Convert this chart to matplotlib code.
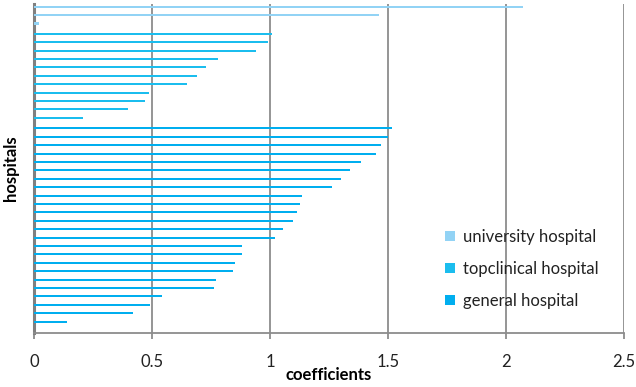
import numpy as np
import matplotlib.pyplot as plt
from matplotlib.patches import Patch

# coefficients per hospital, grouped by hospital type (top to bottom)
university = [2.07, 1.46, 0.02]
topclinical = [1.007, 0.993, 0.94, 0.781, 0.729, 0.689, 0.648, 0.489, 0.470, 0.398, 0.209]
general = [1.518, 1.501, 1.469, 1.448, 1.386, 1.338, 1.300, 1.263, 1.136, 1.126,
           1.113, 1.096, 1.054, 1.021, 0.881, 0.881, 0.850, 0.842, 0.770, 0.761,
           0.541, 0.490, 0.419, 0.138]

groups = ["university hospital", "topclinical hospital", "general hospital"]
colors = ["#92D3F5", "#1BBDEE", "#00AEEF"]
offsets = [-0.23, 0.0, 0.25]  # clustered series offset within a category slot

plt.rcParams['font.family'] = ['Lato', 'DejaVu Sans']

fig = plt.figure(figsize=(6.36, 3.87), dpi=100)
ax = fig.add_axes([34 / 636, 54 / 387, 590 / 636, 329 / 387])

start = 0
for vals, col, off in zip([university, topclinical, general], colors, offsets):
    pos = np.arange(start, start + len(vals)) + off
    ax.barh(pos, vals, height=0.24, color=col, zorder=3)
    start += len(vals)

ax.set_xlim(0, 2.5)
ax.set_ylim(38.6, -0.55)
ax.set_xticks([0, 0.5, 1, 1.5, 2, 2.5])
ax.set_xticklabels(["0", "0.5", "1", "1.5", "2", "2.5"], fontsize=12)
ax.set_yticks([])
ax.grid(axis='x', color='#8c8c8c', linewidth=1.3, zorder=0)

for side in ['top', 'right']:
    ax.spines[side].set_visible(False)
ax.spines['left'].set_color('#808080')
ax.spines['left'].set_linewidth(2.2)
ax.spines['bottom'].set_color('#8c8c8c')
ax.spines['bottom'].set_linewidth(1.3)
ax.tick_params(axis='x', direction='out', length=4, width=1.3, color='#8c8c8c',
               pad=11, labelcolor='#222222')

ax.set_xlabel("coefficients", fontsize=12, fontweight='bold', labelpad=-2)
ax.set_ylabel("hospitals", fontsize=12, fontweight='bold', labelpad=11)

handles = [Patch(facecolor=c, edgecolor='none') for c in colors]
ax.legend(handles, groups, loc='center left', bbox_to_anchor=(0.672, 0.195),
          frameon=False, fontsize=12, handlelength=0.55, handleheight=0.55,
          handletextpad=0.5, labelspacing=0.95, labelcolor='#222222')

fig.savefig("out.png", dpi=100)
